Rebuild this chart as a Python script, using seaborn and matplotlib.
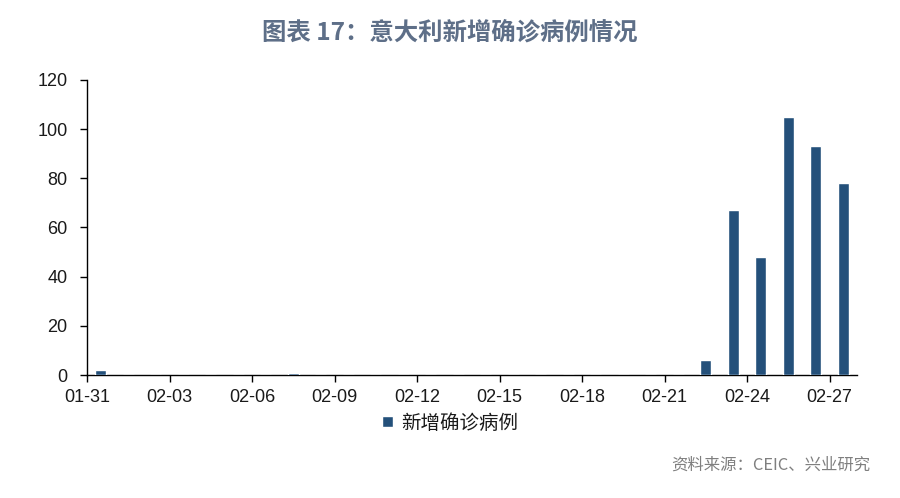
import matplotlib
matplotlib.use("Agg")
import matplotlib.pyplot as plt
import seaborn as sns
import pandas as pd

dates = ["01-31"] + [f"02-{d:02d}" for d in range(1, 28)]
new_cases = [2, 0, 0, 0, 0, 0, 0, 1, 0, 0, 0, 0, 0, 0,
             0, 0, 0, 0, 0, 0, 0, 0, 6, 67, 48, 105, 93, 78]
series_name = "新增确诊病例"
title = "图表 17：意大利新增确诊病例情况"
source = "资料来源：CEIC、兴业研究"

sns.set_theme(style="white")
plt.rcParams['font.family'] = ['Noto Sans CJK SC', 'DejaVu Sans']

df = pd.DataFrame({"date": dates, "cases": new_cases})

fig = plt.figure(figsize=(9, 4.98), dpi=100)
ax = fig.add_axes([87/900, 1-375/498, (857-87)/900, (375-80)/498])

sns.barplot(data=df, x="date", y="cases", order=dates, color="#24507A",
            saturation=1, width=0.41, ax=ax, label=series_name)

ax.set_xlim(-0.5, len(dates) - 0.5)
ax.set_ylim(0, 120)
ax.set_yticks(range(0, 121, 20))
tick_idx = list(range(0, len(dates), 3))
ax.set_xticks([i - 0.5 for i in tick_idx])
ax.set_xticklabels([dates[i] for i in tick_idx])
ax.set_xlabel("")
ax.set_ylabel("")

for s in ["top", "right"]:
    ax.spines[s].set_visible(False)
for s in ["left", "bottom"]:
    ax.spines[s].set_color("#000000")
    ax.spines[s].set_linewidth(1.0)
ax.spines["bottom"].set_zorder(0.5)

ax.tick_params(axis="both", which="major", direction="out", length=5, width=1.0,
               color="#000000", labelsize=13, labelcolor="#1a1a1a",
               bottom=True, left=True)
ax.tick_params(axis="y", pad=9)
ax.tick_params(axis="x", pad=5)
for lab in ax.get_xticklabels() + ax.get_yticklabels():
    lab.set_family(["Liberation Sans", "DejaVu Sans"])

fig.text(0.5, 1 - 33/498, title, ha="center", va="center", fontsize=17.6,
         fontweight="bold", color="#5E6F88")

leg = ax.legend(loc="center", bbox_to_anchor=(450/900, 1 - 423/498),
                bbox_transform=fig.transFigure, frameon=False, fontsize=14,
                handlelength=0.55, handleheight=0.55, handletextpad=0.4)
for t in leg.get_texts():
    t.set_color("#1a1a1a")

fig.text(870/900, 1 - 465/498, source, ha="right", va="center", fontsize=11.8,
         color="#7f7f7f")

fig.savefig("out.png", dpi=100)
